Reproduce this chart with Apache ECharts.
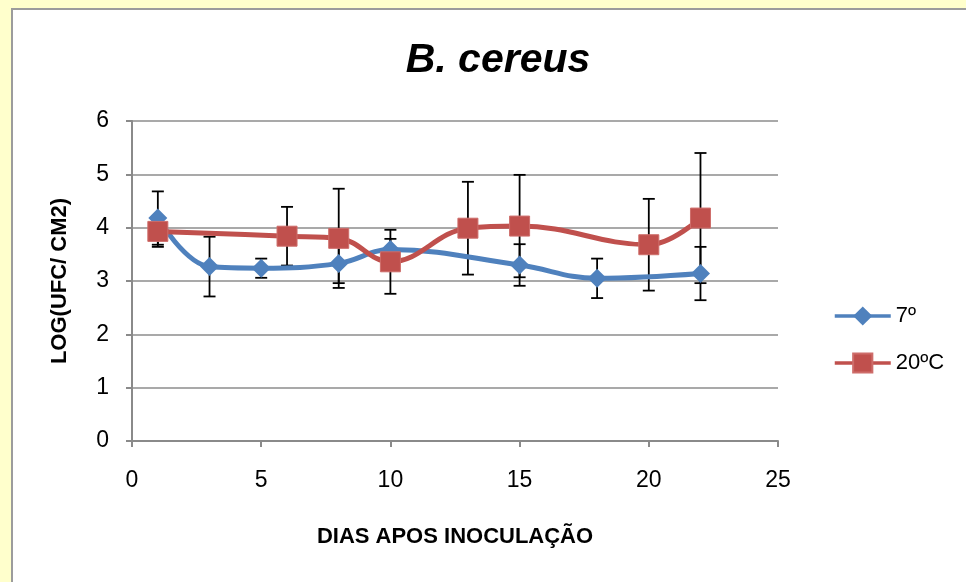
<!DOCTYPE html>
<html>
<head>
<meta charset="utf-8">
<script src="https://cdn.jsdelivr.net/npm/echarts@6/dist/echarts.min.js"></script>
<style>
  html, body { margin: 0; padding: 0; background: #FFFFCC; }
  #myChart { width: 966px; height: 582px; }
</style>
</head>
<body>
<div id="myChart"></div>
<script>
// 7º
const daysCold = [1, 3, 5, 8, 10, 15, 18, 22]
const logCold = [4.18, 3.27, 3.24, 3.33, 3.59, 3.30, 3.05, 3.14]
const errCold = [0.50, 0.56, 0.18, 0.37, 0.20, 0.39, 0.37, 0.50]
// 20ºC
const daysWarm = [1, 6, 8, 10, 13, 15, 20, 22]
const logWarm = [3.93, 3.84, 3.80, 3.36, 3.99, 4.03, 3.68, 4.18]
const errWarm = [0.29, 0.55, 0.93, 0.60, 0.87, 0.96, 0.86, 1.22]

const seriesNames = ['7º', '20ºC']
const xTicks = [0, 25, 5]
const yTicks = [0, 6, 1]

const FONT = 'Liberation Sans, Arial, sans-serif'

function pairs(xs, ys) {
  return xs.map((x, i) => [x, ys[i]])
}

function errData(xs, ys, es) {
  return xs.map((x, i) => [x, ys[i] - es[i], ys[i] + es[i]])
}

// barras de erro
function renderErr(params, api) {
  const low = api.coord([api.value(0), api.value(1)])
  const high = api.coord([api.value(0), api.value(2)])
  const w = 6
  const style = { stroke: '#000', lineWidth: 1.8 }
  return {
    type: 'group',
    children: [
      { type: 'line', shape: { x1: low[0], y1: low[1], x2: high[0], y2: high[1] }, style },
      { type: 'line', shape: { x1: low[0] - w, y1: low[1], x2: low[0] + w, y2: low[1] }, style },
      { type: 'line', shape: { x1: high[0] - w, y1: high[1], x2: high[0] + w, y2: high[1] }, style }
    ]
  }
}

let myChart = echarts.init(document.getElementById('myChart'))
myChart.setOption({
  backgroundColor: '#FFFFCC',
  animation: false,
  graphic: [
    {
      type: 'rect',
      z: -10,
      shape: { x: 12, y: 9, width: 1000, height: 620 },
      style: { fill: '#fff', stroke: '#9c9c9c', lineWidth: 2 }
    }
  ],
  title: {
    text: 'B. cereus',
    left: 493,
    top: 35,
    textAlign: 'center',
    textStyle: { fontFamily: FONT, fontSize: 41, fontWeight: 'bold', fontStyle: 'italic', color: '#000' }
  },
  legend: {
    orient: 'vertical',
    left: 828,
    top: 300,
    itemWidth: 56,
    itemHeight: 24,
    itemGap: 25,
    data: seriesNames,
    lineStyle: { width: 3.5 },
    textStyle: { fontFamily: FONT, fontSize: 22, color: '#000' }
  },
  grid: {
    left: 132,
    right: 188,
    top: 121,
    bottom: 141
  },
  xAxis: {
    type: 'value',
    min: xTicks[0],
    max: xTicks[1],
    interval: xTicks[2],
    name: 'DIAS APOS INOCULAÇÃO',
    nameLocation: 'middle',
    nameGap: 85,
    nameTextStyle: { fontFamily: FONT, fontSize: 22, fontWeight: 'bold', color: '#000' },
    axisLine: { lineStyle: { color: '#8a8a8a', width: 2 } },
    axisTick: { show: true, length: 6, lineStyle: { color: '#8a8a8a', width: 2 } },
    axisLabel: { fontFamily: FONT, fontSize: 23, color: '#000', margin: 28 },
    splitLine: { show: false }
  },
  yAxis: {
    type: 'value',
    min: yTicks[0],
    max: yTicks[1],
    interval: yTicks[2],
    name: 'LOG(UFC/ CM2)',
    nameLocation: 'middle',
    nameGap: 61,
    nameTextStyle: { fontFamily: FONT, fontSize: 22, fontWeight: 'bold', color: '#000' },
    axisLine: { show: true, lineStyle: { color: '#8a8a8a', width: 2 } },
    axisTick: { show: true, length: 6, lineStyle: { color: '#8a8a8a', width: 2 } },
    axisLabel: { fontFamily: FONT, fontSize: 23, color: '#000', margin: 23 },
    splitLine: { lineStyle: { color: '#8c8c8c', width: 1.5 } }
  },
  series: [
    {
      name: seriesNames[0] + '_err',
      type: 'custom',
      renderItem: renderErr,
      data: errData(daysCold, logCold, errCold),
      z: 1,
      silent: true
    },
    {
      name: seriesNames[1] + '_err',
      type: 'custom',
      renderItem: renderErr,
      data: errData(daysWarm, logWarm, errWarm),
      z: 1,
      silent: true
    },
    {
      name: seriesNames[0],
      type: 'line',
      smooth: 0.4,
      symbol: 'diamond',
      symbolSize: 19,
      z: 3,
      itemStyle: { color: '#4F81BD' },
      lineStyle: { color: '#4F81BD', width: 5 },
      data: pairs(daysCold, logCold)
    },
    {
      name: seriesNames[1],
      type: 'line',
      smooth: 0.4,
      symbol: 'rect',
      symbolSize: 20,
      z: 4,
      itemStyle: { color: '#C0504D', borderColor: '#CE6D6A', borderWidth: 1 },
      lineStyle: { color: '#C0504D', width: 5 },
      data: pairs(daysWarm, logWarm)
    }
  ]
})
</script>
</body>
</html>
